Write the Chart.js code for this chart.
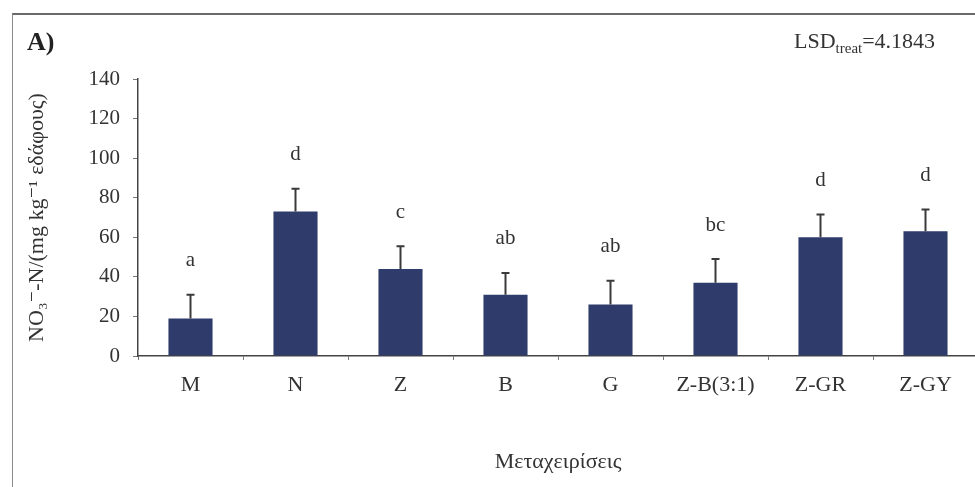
<!DOCTYPE html>
<html>
<head>
<meta charset="utf-8">
<script src="https://cdn.jsdelivr.net/npm/chart.js@4.4.1/dist/chart.umd.min.js"></script>
<style>
    html, body { margin: 0; padding: 0; background: #fff; overflow: hidden; }
    #wrap { position: relative; width: 985px; height: 487px; }
    #frame { position: absolute; left: 12px; top: 13px; width: 970px; height: 480px;
             border-left: 1px solid #8a8a8a; border-top: 2px solid #6a6a6a; }
    canvas { position: absolute; left: 0; top: 0; }
</style>
</head>
<body>
<div id="wrap">
    <div id="frame"></div>
    <canvas id="grafico" width="985" height="487"></canvas>
</div>
<script>
const categorias = ['M', 'N', 'Z', 'B', 'G', 'Z-B(3:1)', 'Z-GR', 'Z-GY'];
const medias = [19, 73, 44, 31, 26, 37, 60, 63];
const desvios = [12, 11.5, 11.5, 11, 12, 12, 11.5, 11];
const letras = ['a', 'd', 'c', 'ab', 'ab', 'bc', 'd', 'd'];
const ticksY = [0, 20, 40, 60, 80, 100, 120, 140];

const serif = '"Liberation Serif", "DejaVu Serif", serif';
const corTexto = '#333';

// barras de erro (só para cima) e letras de significância
const errosPlugin = {
    id: 'erros',
    afterDatasetsDraw(chart) {
        const ctx = chart.ctx;
        const y = chart.scales.y;
        const meta = chart.getDatasetMeta(0);
        ctx.save();
        meta.data.forEach((bar, i) => {
            const topo = y.getPixelForValue(medias[i]);
            const fim = y.getPixelForValue(medias[i] + desvios[i]);
            ctx.strokeStyle = '#3a3a3a';
            ctx.lineWidth = 2;
            ctx.beginPath();
            ctx.moveTo(bar.x, topo);
            ctx.lineTo(bar.x, fim);
            ctx.moveTo(bar.x - 4, fim);
            ctx.lineTo(bar.x + 4, fim);
            ctx.stroke();

            ctx.fillStyle = corTexto;
            ctx.font = '21px ' + serif;
            ctx.textAlign = 'center';
            ctx.textBaseline = 'middle';
            ctx.fillText(letras[i], bar.x, fim - 34);
        });
        ctx.restore();
    }
};

const textosPlugin = {
    id: 'textos',
    afterDraw(chart) {
        const ctx = chart.ctx;
        ctx.save();
        ctx.fillStyle = '#222';
        ctx.textBaseline = 'alphabetic';
        ctx.textAlign = 'left';
        ctx.font = 'bold 26px ' + serif;
        ctx.fillText('A)', 27, 50);

        ctx.fillStyle = corTexto;
        let x = 794;
        ctx.font = '22px ' + serif;
        ctx.fillText('LSD', x, 48);
        x += ctx.measureText('LSD').width;
        ctx.font = '15px ' + serif;
        ctx.fillText('treat', x, 53);
        x += ctx.measureText('treat').width;
        ctx.font = '22px ' + serif;
        ctx.fillText('=4.1843', x, 48);
        ctx.restore();
    }
};

new Chart(document.getElementById('grafico'), {
    type: 'bar',
    data: {
        labels: categorias,
        datasets: [{
            data: medias,
            backgroundColor: '#2f3b6b',
            borderWidth: 0,
            barPercentage: 0.42,
            categoryPercentage: 1
        }]
    },
    options: {
        responsive: false,
        animation: false,
        layout: { padding: { top: 79, right: 7, bottom: 0, left: 0 } },
        plugins: {
            legend: { display: false },
            tooltip: { enabled: false }
        },
        scales: {
            x: {
                afterFit: (s) => { s.height = 131; },
                grid: {
                    display: true,
                    drawOnChartArea: false,
                    tickLength: 4,
                    color: '#777'
                },
                border: { color: '#444', width: 1.5 },
                ticks: {
                    padding: 12,
                    color: corTexto,
                    font: { family: serif, size: 22 }
                },
                title: {
                    display: true,
                    text: 'Μεταχειρίσεις',
                    color: corTexto,
                    font: { family: serif, size: 22 },
                    padding: { top: 0, bottom: 12 }
                }
            },
            y: {
                min: 0,
                max: 140,
                afterFit: (s) => { s.width = 138; },
                afterBuildTicks: (s) => { s.ticks = ticksY.map(v => ({ value: v })); },
                grid: {
                    display: true,
                    drawOnChartArea: false,
                    tickLength: 5,
                    color: '#777'
                },
                border: { color: '#444', width: 1.5 },
                ticks: {
                    padding: 13,
                    color: corTexto,
                    font: { family: serif, size: 21 }
                },
                title: {
                    display: true,
                    text: 'NO₃⁻-N/(mg kg⁻¹ εδάφους)',
                    color: corTexto,
                    font: { family: serif, size: 22 },
                    padding: { top: 24, bottom: 0 }
                }
            }
        }
    },
    plugins: [errosPlugin, textosPlugin]
});
</script>
</body>
</html>
